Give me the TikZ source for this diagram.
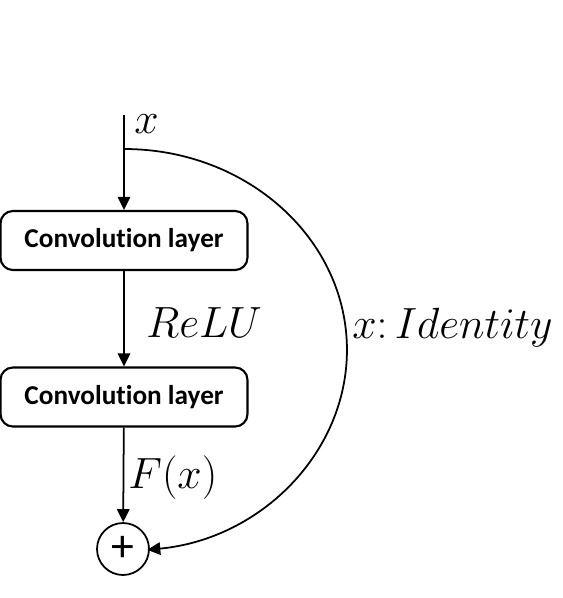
\documentclass[tikz,border=0pt]{standalone}
\usepackage{fontspec}
\newfontfamily\boxfont[Ligatures=NoCommon]{Carlito}
\usetikzlibrary{arrows.meta}
\begin{document}
\begin{tikzpicture}[x=0.02cm,y=-0.02cm,
    flecha/.style={-{Triangle[length=0.26cm,width=0.25cm]}, line width=1pt},
    convbox/.style={draw, line width=1.2pt, rounded corners=7pt, minimum width=4.94cm,
        minimum height=1.18cm, font=\boxfont\bfseries\fontsize{15.5}{18}\selectfont},
    sumnode/.style={draw, circle, line width=1pt, minimum size=1.04cm, inner sep=0pt,
        font=\boxfont\fontsize{26}{28}\selectfont},
    etiqueta/.style={font=\fontsize{24}{28}\selectfont, inner sep=0pt}]
    \useasboundingbox (0,0) rectangle (562,598);

    % Bloques
    \coordinate (entrada) at (124,115);
    \coordinate (rama) at (124,149);
    \node[convbox] (conv1) at (124,240.5) {Convolution layer};
    \node[convbox] (conv2) at (124,397) {Convolution layer};
    \node[sumnode] (suma) at (123,549) {+};

    % Conexiones
    \draw[flecha] (entrada) -- (conv1);
    \draw[flecha] (conv1) -- (conv2);
    \draw[flecha] (conv2) -- (suma);
    \draw[flecha] (rama) arc[start angle=90, end angle=-84, x radius=4.46cm, y radius=4.02cm];

    % Etiquetas
    \node[etiqueta, anchor=base west] (lx) at (134,133) {$x$};
    \node[etiqueta, anchor=base west] (lrelu) at (146,337) {$ReLU$};
    \node[etiqueta, anchor=base west] (lfx) at (128,488) {$F(x)$};
    \node[etiqueta, anchor=base west] (lid) at (352,338) {$x{:}\,Identity$};
\end{tikzpicture}
\end{document}
